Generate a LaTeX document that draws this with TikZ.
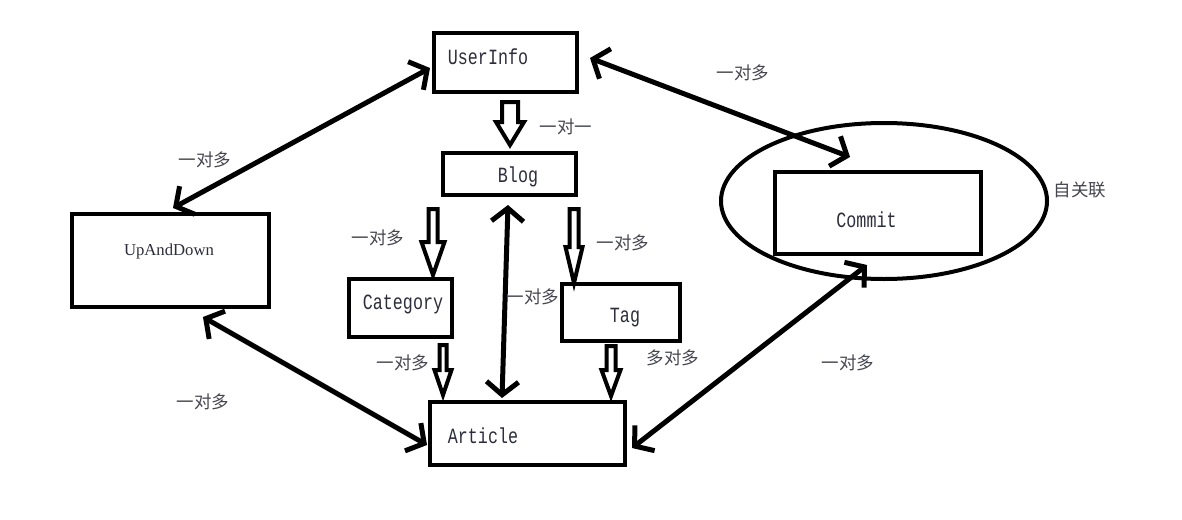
\documentclass[tikz,border=0pt]{standalone}
\usepackage{fontspec}
\setmainfont{Liberation Serif}
\newfontfamily\monof{Liberation Mono}
\newfontfamily\cjk{Noto Sans CJK SC}
\usetikzlibrary{arrows.meta,shapes.geometric}
\definecolor{txtcol}{RGB}{45,45,60}
\definecolor{lblcol}{RGB}{70,70,80}
\newcommand{\hollowarr}[6]{\draw[hollow] ({#1-#5},#2) -- ({#1+#5},#2) -- ({#1+#5},#3) -- ({#1+#6},#3) -- (#1,#4) -- ({#1-#6},#3) -- ({#1-#5},#3) -- cycle;}
\newcommand{\tallmono}[1]{\scalebox{1}[1.3]{#1}}
\begin{document}
\begin{tikzpicture}[x=1pt,y=-1pt,
  box/.style={draw,line width=4.5pt,inner sep=0pt},
  boxtext/.style={font=\monof\fontsize{16.7}{20}\selectfont,text=txtcol,anchor=base,inner sep=0pt},
  lbl/.style={font=\cjk\fontsize{17.5}{20}\selectfont,text=lblcol,inner sep=0pt},
  barb/.tip={Straight Barb[length=13pt,width=32pt,line width=5pt]},
  link/.style={line width=5pt,barb-barb},
  hollow/.style={draw,line width=4pt,line join=miter,fill=white}]
\fill[white] (0,0) rectangle (1182,519);
\useasboundingbox (0,0) rectangle (1182,519);

% boxes
\node[box,minimum width=143pt,minimum height=59pt] (userinfo) at (505.5,62.5) {};
\node[box,minimum width=133pt,minimum height=42pt] (blog) at (509.5,174) {};
\node[box,minimum width=103pt,minimum height=58pt] (category) at (400.5,308) {};
\node[box,minimum width=118pt,minimum height=57pt] (tag) at (621,312.5) {};
\node[box,minimum width=195pt,minimum height=63pt] (article) at (527.5,433.5) {};
\node[box,minimum width=197pt,minimum height=93pt] (upanddown) at (170.5,260.5) {};
\node[box,minimum width=206pt,minimum height=82pt] (commit) at (878,213) {};
\node[draw,ellipse,line width=4pt,minimum width=326pt,minimum height=156pt] (selfrel) at (884,201) {};

% box texts
\node[boxtext] (userinfo-t) at (488,64) {\tallmono{UserInfo}};
\node[boxtext] (blog-t) at (518,182) {\tallmono{Blog}};
\node[boxtext] (category-t) at (403,309) {\tallmono{Category}};
\node[boxtext] (tag-t) at (625,322) {\tallmono{Tag}};
\node[boxtext] (article-t) at (483,443) {\tallmono{Article}};
\node[boxtext] (commit-t) at (866.5,227) {\tallmono{Commit}};
\node[boxtext,font=\rmfamily\fontsize{16.7}{20}\selectfont] (upanddown-t) at (169,255) {UpAndDown};

% hollow arrows
\hollowarr{510}{102}{122}{145}{8}{14}
\hollowarr{433}{209}{242}{275}{4.5}{11.5}
\hollowarr{574}{209}{247}{283}{4.5}{8.5}
\hollowarr{443}{345}{370}{395}{3.5}{8.5}
\hollowarr{611}{346}{370}{396}{4.5}{9.5}

% connector end points
\coordinate (ui-w) at (430,68);
\coordinate (ud-n) at (173,208);
\coordinate (ui-e) at (590,58);
\coordinate (cm-n) at (850,157);
\coordinate (ud-s) at (203,317);
\coordinate (ar-w) at (427,445);
\coordinate (bl-s) at (508,205);
\coordinate (ar-n) at (502,398);
\coordinate (ar-e) at (632,448);
\coordinate (cm-s) at (867,265);

\draw[link] (ui-w) -- (ud-n);
\draw[link] (ui-e) -- (cm-n);
\draw[link] (ud-s) -- (ar-w);
\draw[link] (bl-s) -- (ar-n);
\draw[link] (ar-e) -- (cm-s);

% labels
\node[lbl] (l1) at (566,127) {一对一};
\node[lbl] (l2) at (743,73) {一对多};
\node[lbl] (l3) at (205,160) {一对多};
\node[lbl] (l4) at (378,238) {一对多};
\node[lbl] (l5) at (623,243) {一对多};
\node[lbl] (l6) at (533,297) {一对多};
\node[lbl] (l7) at (403,363) {一对多};
\node[lbl] (l8) at (673,358) {多对多};
\node[lbl] (l9) at (203,402) {一对多};
\node[lbl] (l10) at (848,363) {一对多};
\node[lbl] (l11) at (1080,190) {自关联};
\end{tikzpicture}
\end{document}
